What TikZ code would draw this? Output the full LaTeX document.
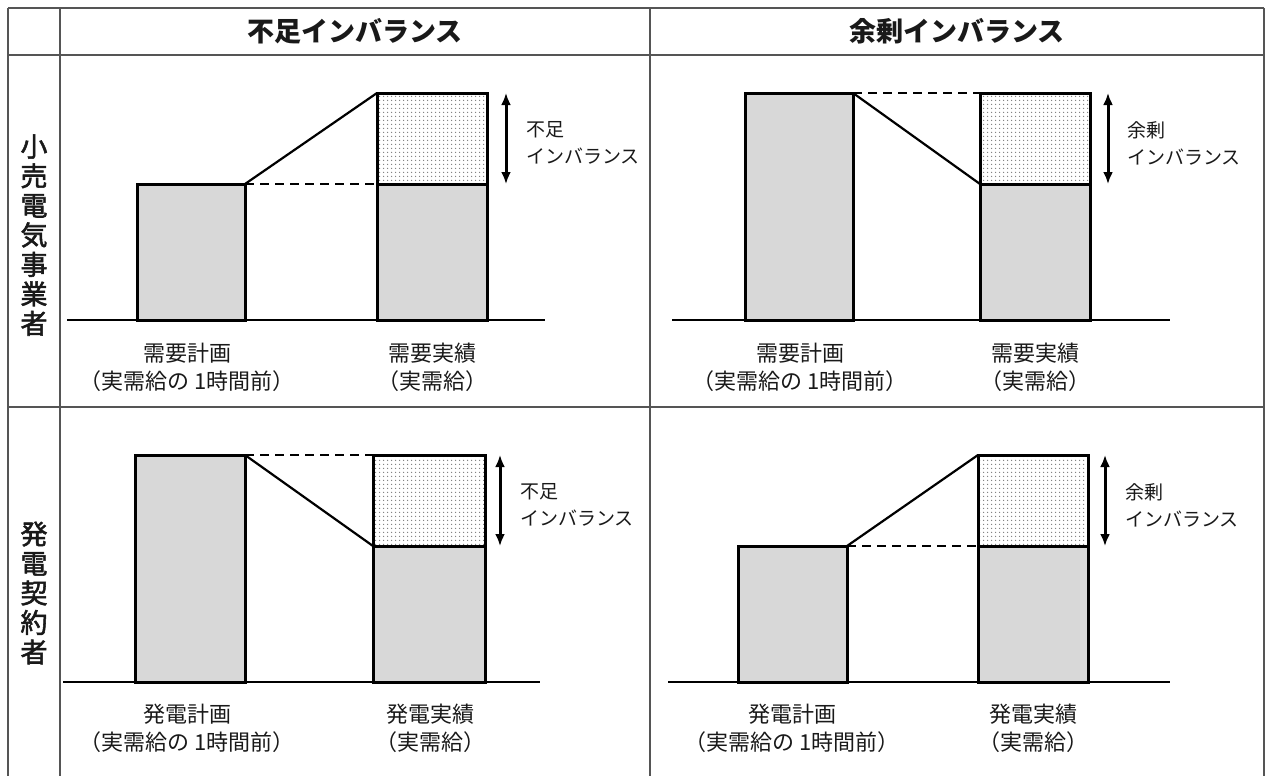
\documentclass[tikz,border=0pt]{standalone}
\usepackage{fontspec}
\setmainfont{Noto Sans CJK JP}
\newfontfamily\rowfont{Noto Sans CJK JP}[FakeBold=2]
\usetikzlibrary{patterns.meta,arrows.meta}
\tikzdeclarepattern{name=fdots, type=uncolored, bottom left={(-2pt,-2pt)}, top right={(2pt,2pt)}, tile size={(4pt,4pt)}, code={\fill (0pt,0pt) circle (0.8pt);}}
\definecolor{gridc}{RGB}{85,85,85}
\definecolor{barfill}{RGB}{216,216,216}
\definecolor{txt}{RGB}{25,25,25}
\definecolor{dotc}{RGB}{120,120,120}
\tikzset{
  gridline/.style={draw=gridc, line width=2pt},
  baseln/.style={draw=black, line width=2.2pt},
  bar/.style={draw=black, line width=3pt, fill=barfill, line join=miter},
  dotbar/.style={preaction={fill=white}, pattern=fdots, pattern color=dotc, draw=black, line width=3pt, line join=miter},
  solidln/.style={draw=black, line width=2.2pt},
  dashln/.style={draw=black, line width=2.2pt, dash pattern=on 9pt off 6pt},
  dblarrow/.style={draw=black, line width=3pt, {Latex[length=12pt,width=10pt]}-{Latex[length=12pt,width=10pt]}},
  hdr/.style={font=\fontsize{27}{30}\selectfont\bfseries, text=txt, inner sep=0pt},
  rowlbl/.style={font=\rowfont\fontsize{27}{29.5}\selectfont, text=txt, align=center, inner sep=0pt},
  lbl/.style={font=\fontsize{22}{28}\selectfont, text=txt, align=center, inner sep=0pt},
  side/.style={font=\fontsize{19}{27}\selectfont, text=txt, align=left, inner sep=0pt, anchor=west}
}
\begin{document}
\begin{tikzpicture}[x=1pt,y=-1pt]
\useasboundingbox (0,0) rectangle (1268,776);
% table grid
\coordinate (gTL) at (8,8);   \coordinate (gTR) at (1264,8);
\coordinate (gHL) at (8,55);  \coordinate (gHR) at (1264,55);
\coordinate (gML) at (8,407); \coordinate (gMR) at (1264,407);
\coordinate (v1t) at (8,8);    \coordinate (v1b) at (8,776);
\coordinate (v2t) at (60,8);   \coordinate (v2b) at (60,776);
\coordinate (v3t) at (650,8);  \coordinate (v3b) at (650,776);
\coordinate (v4t) at (1264,8); \coordinate (v4b) at (1264,776);
\draw[gridline] (gTL) -- (gTR);
\draw[gridline] (gHL) -- (gHR);
\draw[gridline] (gML) -- (gMR);
\draw[gridline] (v1t) -- (v1b);
\draw[gridline] (v2t) -- (v2b);
\draw[gridline] (v3t) -- (v3b);
\draw[gridline] (v4t) -- (v4b);
% headers
\node[hdr] (h1) at (355,31) {不足インバランス};
\node[hdr] (h2) at (957,31) {余剰インバランス};
\node[rowlbl] (r1) at (34,235) {小\\売\\電\\気\\事\\業\\者};
\node[rowlbl] (r2) at (34,593) {発\\電\\契\\約\\者};

% ===== Panel 1 =====
\coordinate (p1L) at (67,320); \coordinate (p1R) at (545,320);
\coordinate (p1aTL) at (137,184); \coordinate (p1aTR) at (245,184); \coordinate (p1aBR) at (245,320);
\coordinate (p1bTL) at (377,93); \coordinate (p1bML) at (377,184); \coordinate (p1bMR) at (487,184); \coordinate (p1bBR) at (487,320);
\coordinate (p1arT) at (506,93); \coordinate (p1arB) at (506,184);
\draw[bar] (p1aTL) rectangle (p1aBR);
\draw[bar] (p1bML) rectangle (p1bBR);
\draw[dotbar] (p1bTL) rectangle (p1bMR);
\draw[baseln] (p1L) -- (p1R);
\draw[solidln] (p1aTR) -- (p1bTL);
\draw[dashln] (p1aTR) -- (p1bML);
\draw[dblarrow] (p1arT) -- (p1arB);
\node[side] (p1s) at (526,143) {不足\\インバランス};
\node[lbl] (p1la) at (187,367) {需要計画\\（実需給の 1時間前）};
\node[lbl] (p1lb) at (432,367) {需要実績\\（実需給）};

% ===== Panel 2 =====
\coordinate (p2L) at (672,320); \coordinate (p2R) at (1170,320);
\coordinate (p2aTL) at (745,93); \coordinate (p2aTR) at (853,93); \coordinate (p2aBR) at (853,320);
\coordinate (p2bTL) at (980,93); \coordinate (p2bML) at (980,184); \coordinate (p2bMR) at (1090,184); \coordinate (p2bBR) at (1090,320);
\coordinate (p2arT) at (1108,93); \coordinate (p2arB) at (1108,184);
\draw[bar] (p2aTL) rectangle (p2aBR);
\draw[bar] (p2bML) rectangle (p2bBR);
\draw[dotbar] (p2bTL) rectangle (p2bMR);
\draw[baseln] (p2L) -- (p2R);
\draw[dashln] (p2aTR) -- (p2bTL);
\draw[solidln] (p2aTR) -- (p2bML);
\draw[dblarrow] (p2arT) -- (p2arB);
\node[side] (p2s) at (1127,143) {余剰\\インバランス};
\node[lbl] (p2la) at (800,367) {需要計画\\（実需給の 1時間前）};
\node[lbl] (p2lb) at (1035,367) {需要実績\\（実需給）};

% ===== Panel 3 =====
\coordinate (p3L) at (63,682); \coordinate (p3R) at (540,682);
\coordinate (p3aTL) at (135,455); \coordinate (p3aTR) at (245,455); \coordinate (p3aBR) at (245,682);
\coordinate (p3bTL) at (373,455); \coordinate (p3bML) at (373,546); \coordinate (p3bMR) at (485,546); \coordinate (p3bBR) at (485,682);
\coordinate (p3arT) at (500,455); \coordinate (p3arB) at (500,546);
\draw[bar] (p3aTL) rectangle (p3aBR);
\draw[bar] (p3bML) rectangle (p3bBR);
\draw[dotbar] (p3bTL) rectangle (p3bMR);
\draw[baseln] (p3L) -- (p3R);
\draw[dashln] (p3aTR) -- (p3bTL);
\draw[solidln] (p3aTR) -- (p3bML);
\draw[dblarrow] (p3arT) -- (p3arB);
\node[side] (p3s) at (520,505) {不足\\インバランス};
\node[lbl] (p3la) at (187,728) {発電計画\\（実需給の 1時間前）};
\node[lbl] (p3lb) at (430,728) {発電実績\\（実需給）};

% ===== Panel 4 =====
\coordinate (p4L) at (668,682); \coordinate (p4R) at (1170,682);
\coordinate (p4aTL) at (738,546); \coordinate (p4aTR) at (847,546); \coordinate (p4aBR) at (847,682);
\coordinate (p4bTL) at (978,455); \coordinate (p4bML) at (978,546); \coordinate (p4bMR) at (1088,546); \coordinate (p4bBR) at (1088,682);
\coordinate (p4arT) at (1105,455); \coordinate (p4arB) at (1105,546);
\draw[bar] (p4aTL) rectangle (p4aBR);
\draw[bar] (p4bML) rectangle (p4bBR);
\draw[dotbar] (p4bTL) rectangle (p4bMR);
\draw[baseln] (p4L) -- (p4R);
\draw[solidln] (p4aTR) -- (p4bTL);
\draw[dashln] (p4aTR) -- (p4bML);
\draw[dblarrow] (p4arT) -- (p4arB);
\node[side] (p4s) at (1125,505) {余剰\\インバランス};
\node[lbl] (p4la) at (792,728) {発電計画\\（実需給の 1時間前）};
\node[lbl] (p4lb) at (1033,728) {発電実績\\（実需給）};
\end{tikzpicture}
\end{document}
